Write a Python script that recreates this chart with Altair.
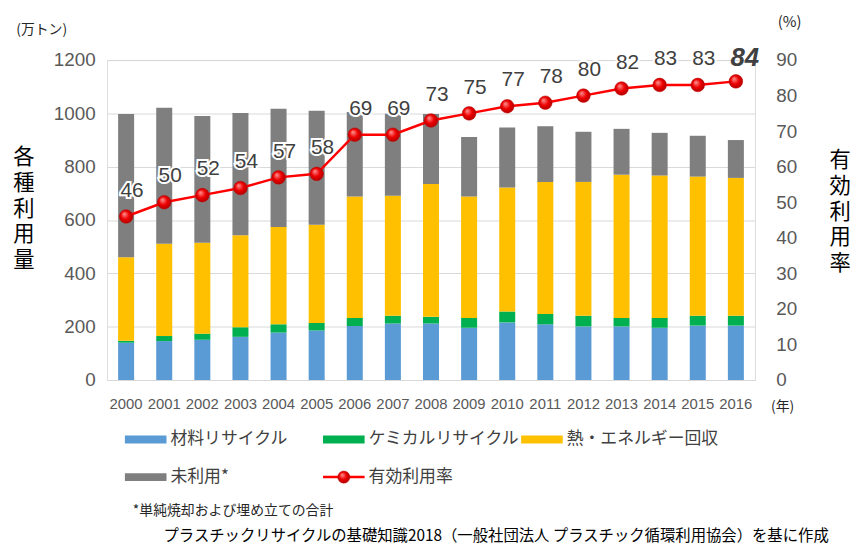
import altair as alt
import pandas as pd

years = ["2000", "2001", "2002", "2003", "2004", "2005", "2006", "2007", "2008",
         "2009", "2010", "2011", "2012", "2013", "2014", "2015", "2016"]
material = [140, 146, 151, 162, 178, 186, 203, 212, 212, 196, 216, 209, 201, 201, 196, 204, 204]
chemical = [7, 19, 23, 36, 31, 28, 30, 29, 25, 37, 41, 39, 40, 32, 37, 37, 37]
energy = [313, 346, 341, 345, 365, 368, 455, 450, 498, 455, 465, 495, 502, 537, 534, 522, 517]
unused = [538, 510, 475, 458, 443, 428, 317, 308, 263, 223, 225, 209, 188, 172, 160, 153, 142]
rate = [46, 50, 52, 54, 57, 58, 69, 69, 73, 75, 77, 78, 80, 82, 83, 83, 84]

categories = ["材料リサイクル", "ケミカルリサイクル", "熱・エネルギー回収", "未利用*"]
colors = ["#5b9bd5", "#00b050", "#ffc000", "#7f7f7f"]
rate_name = "有効利用率"

JP = "Noto Sans CJK JP"
NUM = "Liberation Sans"

rows = []
for i, y in enumerate(years):
    for k, (cat, vals) in enumerate(zip(categories, [material, chemical, energy, unused])):
        rows.append({"year": y, "cat": cat, "value": vals[i], "order": k})
bars_df = pd.DataFrame(rows)
rate_df = pd.DataFrame({"year": years, "rate": rate})

xenc = alt.X("year:O", title=None,
             scale=alt.Scale(paddingInner=0.58, paddingOuter=0.29),
             axis=alt.Axis(labelAngle=0, labelFontSize=15, labelColor="#595959", labelFont=NUM,
                           ticks=False, domainColor="#d9d9d9", labelPadding=17))

bars = alt.Chart(bars_df).mark_bar().encode(
    x=xenc,
    y=alt.Y("value:Q", stack="zero", title=None,
            scale=alt.Scale(domain=[0, 1200], nice=False),
            axis=alt.Axis(values=[0, 200, 400, 600, 800, 1000, 1200], format="d", labelFontSize=19,
                          labelColor="#595959", labelFont=NUM, ticks=False, domain=False,
                          gridColor="#d9d9d9", labelPadding=12)),
    color=alt.Color("cat:N", scale=alt.Scale(domain=categories, range=colors), legend=None),
    order=alt.Order("order:Q", sort="ascending"),
)

yrate = alt.Y("rate:Q", title=None, scale=alt.Scale(domain=[0, 90], nice=False),
              axis=alt.Axis(orient="right", values=list(range(0, 100, 10)), labelFontSize=19,
                            labelColor="#595959", labelFont=NUM, ticks=False, domain=False,
                            grid=False, labelPadding=21))

grad = alt.RadialGradient(
    gradient="radial",
    stops=[alt.GradientStop(color="#ff9a9a", offset=0),
           alt.GradientStop(color="#ee0000", offset=0.5),
           alt.GradientStop(color="#a00000", offset=1)],
    x1=0.35, y1=0.3, r1=0, x2=0.5, y2=0.5, r2=0.6,
)

base_rate = alt.Chart(rate_df)
line = base_rate.mark_line(color="#ff0000", strokeWidth=2.5).encode(x="year:O", y=yrate)
points = base_rate.mark_point(filled=True, fill=grad, opacity=1, size=190, stroke="#c00000",
                              strokeWidth=0.5).encode(x="year:O", y=yrate)
halo = base_rate.transform_filter(alt.datum.rate < 84).mark_text(
    fontSize=21, font=NUM, dx=6, dy=-26, stroke="white", strokeWidth=4, color="white"
).encode(x="year:O", y=yrate, text="rate:Q")
labels = base_rate.transform_filter(alt.datum.rate < 84).mark_text(
    fontSize=21, font=NUM, dx=6, dy=-26, color="#404040"
).encode(x="year:O", y=yrate, text="rate:Q")
last = base_rate.transform_filter(alt.datum.rate >= 84).mark_text(
    fontSize=26, font=NUM, fontWeight="bold", fontStyle="italic", dx=9, dy=-24, color="#404040"
).encode(x="year:O", y=yrate, text="rate:Q")

rate_layer = alt.layer(line, points, halo, labels, last)

one = alt.Data(values=[{}])


def txt(s, x, y, size, color="#000000", align="center", font=JP, **kw):
    return alt.Chart(one).mark_text(text=s, fontSize=size, color=color, align=align,
                                    baseline="middle", font=font, **kw).encode(
        x=alt.value(x), y=alt.value(y))


def rect(x, x2, y, y2, color):
    return alt.Chart(one).mark_rect(color=color).encode(
        x=alt.value(x), x2=alt.value(x2), y=alt.value(y), y2=alt.value(y2))


deco = []
# top black rule
deco.append(alt.Chart(one).mark_rule(color="black", strokeWidth=3).encode(
    x=alt.value(14), x2=alt.value(710), y=alt.value(-56)))
# axis titles / units (one glyph per mark, stacked vertically)
for i, ch in enumerate("各種利用量"):
    deco.append(txt(ch, -84, 99 + i * 26, 21.5))
for i, ch in enumerate("有効利用率"):
    deco.append(txt(ch, 740, 102 + i * 26, 21.5))
deco.append(txt("(万トン)", -66, -30, 14, color="#262626"))
deco.append(txt("(%)", 689, -38, 15, color="#262626"))
deco.append(txt("(年)", 682, 350, 14, color="#262626"))

# legend
leg_pos = [(18, 383), (218, 383), (418, 383), (18, 421)]
for (lx, ly), cat, col in zip(leg_pos, categories, colors):
    deco.append(rect(lx, lx + 42, ly - 4, ly + 4, col))
    deco.append(txt(cat, lx + 46, ly, 17, color="#404040", align="left"))
deco.append(alt.Chart(one).mark_rule(color="#ff0000", strokeWidth=2.5).encode(
    x=alt.value(218), x2=alt.value(260), y=alt.value(421)))
deco.append(alt.Chart(one).mark_point(filled=True, fill=grad, opacity=1, size=150,
                                      stroke="#c00000", strokeWidth=0.5).encode(
    x=alt.value(239), y=alt.value(421)))
deco.append(txt(rate_name, 264, 421, 17, color="#404040", align="left"))

deco.append(txt("*単純焼却および埋め立ての合計", 26, 455, 14, color="#262626", align="left"))
deco.append(txt("プラスチックリサイクルの基礎知識2018（一般社団法人 プラスチック循環利用協会）を基に作成",
                57, 480, 15.5, color="#000000", align="left"))

chart = alt.layer(bars, rate_layer, *deco).resolve_scale(y="independent").properties(
    width=654, height=323,
    padding={"left": 100, "top": 50, "right": 99, "bottom": 165},
    autosize=alt.AutoSizeParams(type="none"),
).configure_view(stroke=None).configure(background="white")

chart.save("out.html", embed_options={"renderer": "svg", "actions": False})
